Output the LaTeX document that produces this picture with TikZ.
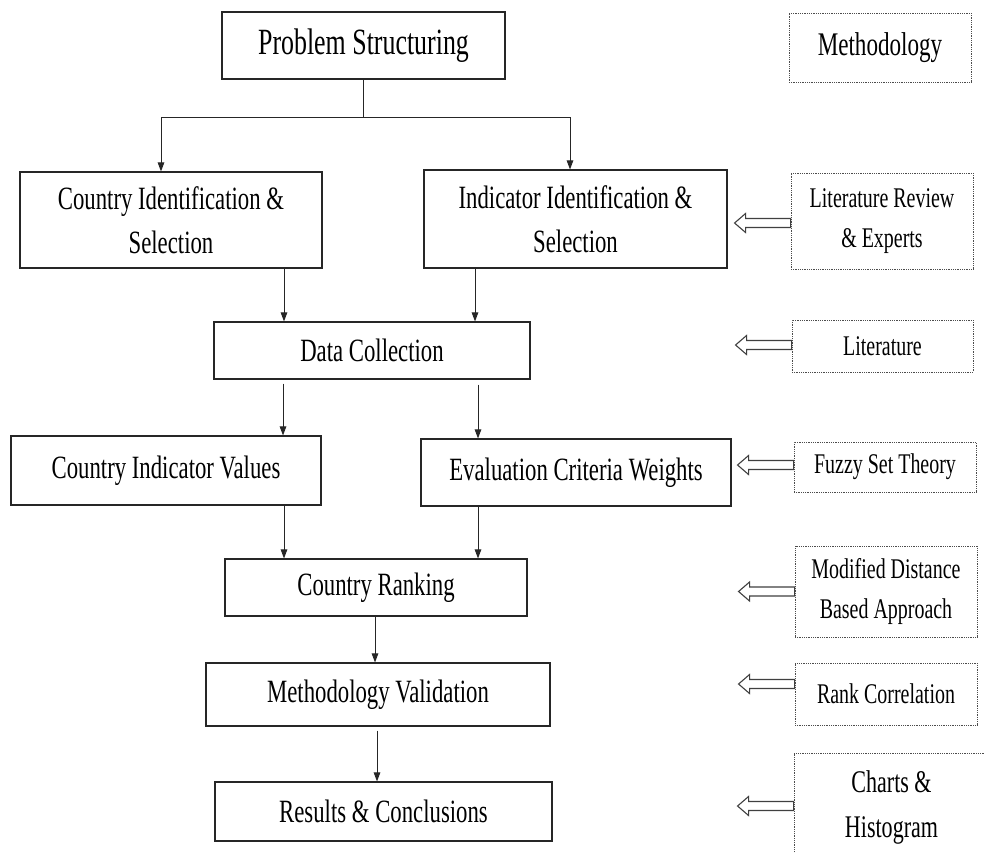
\documentclass[tikz,border=0pt]{standalone}
\usepackage{fontspec}
\setmainfont{Liberation Serif}[FakeStretch=0.7]
\usetikzlibrary{arrows.meta}

% outlined block arrow pointing left, tail starting at #1
\newcommand{\hollowarrow}[1]{%
  \draw[hollowarr] #1 ++(0,4.5) -- ++(-45,0) -- ++(0,5) -- ++(-11,-9.5)
    -- ++(11,-9.5) -- ++(0,5) -- ++(45,0) -- cycle;}

\begin{document}
\begin{tikzpicture}[x=1pt,y=-1pt,
  box/.style={draw=black!85, line width=1.1pt, inner sep=0pt, align=center,
    font=\fontsize{32.5}{44}\selectfont},
  srcbox/.style={draw=black!70, line width=0.9pt, dash pattern=on 0.9pt off 0.9pt,
    inner sep=0pt, align=center, font=\fontsize{28.5}{40}\selectfont},
  conn/.style={draw=black!85, line width=1pt},
  arr/.style={conn, -{Triangle[length=9pt,width=6.5pt]}},
  hollowarr/.style={draw=black!75, line width=1.1pt, fill=white, line join=miter}
]
\clip (0,0) rectangle (984,852);
\fill[white] (0,0) rectangle (984,852);

% main process steps
\node[box, minimum width=283, minimum height=67, font=\fontsize{37}{44}\selectfont]
  (ps) at (363.5,45.5) {Problem Structuring};
\node[box, minimum width=302, minimum height=96] (ci) at (171,220)
  {Country Identification \&\\Selection};
\node[box, minimum width=303, minimum height=98] (ii) at (575.5,219)
  {Indicator Identification \&\\Selection};
\node[box, minimum width=316, minimum height=57] (dc) at (372,350.5) {Data Collection};
\node[box, minimum width=310, minimum height=69] (civ) at (166,470.5) {Country Indicator Values};
\node[box, minimum width=310, minimum height=67] (ecw) at (576,472.5) {Evaluation Criteria Weights};
\node[box, minimum width=302, minimum height=57] (cr) at (376,587.5) {Country Ranking};
\node[box, minimum width=344, minimum height=63] (mv) at (378,694.5) {Methodology Validation};
\node[box, minimum width=337, minimum height=59] (rc) at (383.5,811.5) {Results \& Conclusions};

% methods column
\node[srcbox, minimum width=182, minimum height=69, font=\fontsize{33}{40}\selectfont]
  (meth) at (880,47.5) {Methodology};
\node[srcbox, minimum width=182, minimum height=96] (lre) at (882,221)
  {Literature Review\\\& Experts};
\node[srcbox, minimum width=181, minimum height=52] (lit) at (882.5,346) {Literature};
\node[srcbox, minimum width=182, minimum height=50] (fst) at (885,467) {Fuzzy Set Theory};
\node[srcbox, minimum width=182, minimum height=91] (mdba) at (886,591.5)
  {Modified Distance\\Based Approach};
\node[srcbox, minimum width=182, minimum height=62] (rcor) at (886,694) {Rank Correlation};
\node[srcbox, minimum width=195, minimum height=108, font=\fontsize{31.5}{45}\selectfont]
  (chh) at (891.5,807) {Charts \&\\Histogram};

% branching from the first step
\coordinate (jl) at (161,117);
\coordinate (jr) at (570,117);
\draw[conn] (ps.south) -- (ps.south |- jl);
\draw[conn] (jl) -- (jr);
\draw[arr] (jl) -- (jl |- ci.north);
\draw[arr] (jr) -- (jr |- ii.north);

% vertical flow
\coordinate (xa) at (284,0);
\coordinate (xb) at (475,0);
\coordinate (xc) at (283,0);
\coordinate (xd) at (478,0);
\coordinate (xe) at (375,0);
\coordinate (xf) at (377,0);
\draw[arr] (ci.south -| xa) -- (dc.north -| xa);
\draw[arr] (ii.south -| xb) -- (dc.north -| xb);
\draw[arr, shorten <=4pt] (dc.south -| xc) -- (civ.north -| xc);
\draw[arr, shorten <=5pt] (dc.south -| xd) -- (ecw.north -| xd);
\draw[arr] (civ.south -| xa) -- (cr.north -| xa);
\draw[arr] (ecw.south -| xd) -- (cr.north -| xd);
\draw[arr] (cr.south -| xe) -- (mv.north -| xe);
\draw[arr, shorten <=4pt] (mv.south -| xf) -- (rc.north -| xf);

% method inputs
\hollowarrow{([yshift=-2pt]lre.west)}
\hollowarrow{([yshift=1pt]lit.west)}
\hollowarrow{([yshift=2pt]fst.west)}
\hollowarrow{(mdba.west)}
\hollowarrow{([yshift=10pt]rcor.west)}
\hollowarrow{([yshift=1pt]chh.west)}
\end{tikzpicture}
\end{document}
